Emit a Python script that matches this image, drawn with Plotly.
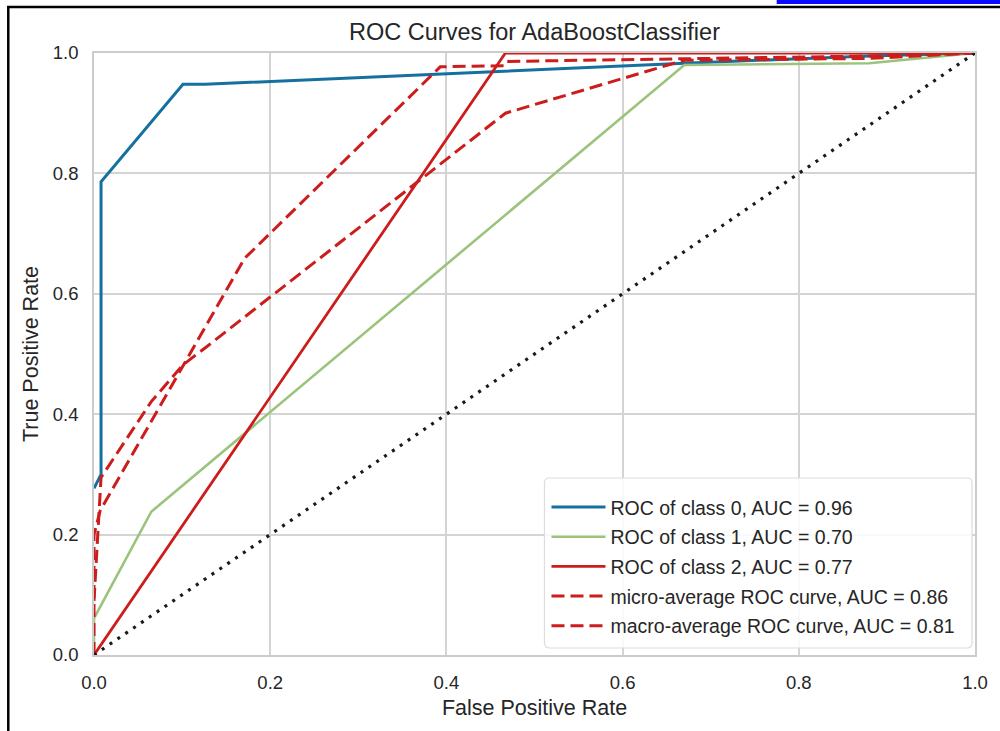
import plotly.graph_objects as go

# ROC curve coordinates (false positive rate, true positive rate)
class0_fpr = [0.0, 0.008, 0.008, 0.101, 0.126, 0.67, 0.88, 1.0]
class0_tpr = [0.277, 0.30, 0.786, 0.948, 0.948, 0.983, 0.995, 1.0]

class1_fpr = [0.0, 0.0, 0.065, 0.67, 0.88, 1.0]
class1_tpr = [0.0, 0.061, 0.238, 0.98, 0.983, 1.0]

class2_fpr = [0.0, 0.467, 1.0]
class2_tpr = [0.0, 1.0, 1.0]

micro_fpr = [0.0, 0.0, 0.007, 0.171, 0.393, 0.465, 0.468, 0.67, 0.88, 1.0]
micro_tpr = [0.0, 0.20, 0.24, 0.659, 0.977, 0.979, 0.986, 0.99, 0.995, 1.0]

macro_fpr = [0.0, 0.008, 0.065, 0.101, 0.126, 0.467, 0.67, 0.88, 1.0]
macro_tpr = [0.09, 0.295, 0.421, 0.482, 0.51, 0.90, 0.988, 0.991, 1.0]

diag = [0.0, 1.0]

labels = [
    "ROC of class 0, AUC = 0.96",
    "ROC of class 1, AUC = 0.70",
    "ROC of class 2, AUC = 0.77",
    "micro-average ROC curve, AUC = 0.86",
    "macro-average ROC curve, AUC = 0.81",
]

tick_vals = [0.0, 0.2, 0.4, 0.6, 0.8, 1.0]
tick_text = ["0.0", "0.2", "0.4", "0.6", "0.8", "1.0"]

BLUE = "#14719f"
GREEN = "#9ac47c"
RED = "#cc1c1c"
TEXT = "#262626"
GRID = "#d4d4d4"
FONT = "Liberation Sans, Arial, sans-serif"
DASH = "13px,6px"

# plot area size in pixels (used to keep rounded corners circular)
PLOT_W = 1000 - 94 - 22
PLOT_H = 731 - 53 - 76

curves = [
    (class0_fpr, class0_tpr, dict(color=BLUE, width=3)),
    (class1_fpr, class1_tpr, dict(color=GREEN, width=2.6)),
    (class2_fpr, class2_tpr, dict(color=RED, width=2.8)),
    (micro_fpr, micro_tpr, dict(color=RED, width=3, dash=DASH)),
    (macro_fpr, macro_tpr, dict(color=RED, width=3, dash=DASH)),
]

fig = go.Figure()
for i, (fx, fy, style) in enumerate(curves):
    fig.add_trace(go.Scatter(x=fx, y=fy, mode="lines", name=labels[i],
                             legendgroup=f"g{i}", line=style))
fig.add_trace(go.Scatter(x=diag, y=diag, mode="lines", showlegend=False,
                         line=dict(color="#1a1a1a", width=3.2, dash="3px,6.5px")))

axis_common = dict(
    range=[0, 1],
    tickvals=tick_vals,
    ticktext=tick_text,
    showgrid=True,
    gridcolor=GRID,
    gridwidth=1.5,
    zeroline=False,
    showline=True,
    linecolor="#cccccc",
    linewidth=1.5,
    mirror=True,
    ticks="outside",
    ticklen=10,
    tickcolor="rgba(0,0,0,0)",
    tickfont=dict(family=FONT, size=18.5, color=TEXT),
)

fig.update_layout(
    width=1000,
    height=731,
    margin=dict(l=94, r=22, t=53, b=76),
    paper_bgcolor="white",
    plot_bgcolor="white",
    font=dict(family=FONT, color=TEXT),
    title=dict(text="ROC Curves for AdaBoostClassifier", x=0.5, xref="paper",
               xanchor="center", y=0.956, yanchor="middle",
               font=dict(family=FONT, size=23.5, color=TEXT)),
    xaxis=dict(axis_common, title=dict(text="False Positive Rate", standoff=8,
                                       font=dict(family=FONT, size=21.5, color=TEXT))),
    yaxis=dict(axis_common, title=dict(text="True Positive Rate", standoff=8,
                                       font=dict(family=FONT, size=21.5, color=TEXT))),
    legend=dict(
        x=0.5136, y=0.0168, xanchor="left", yanchor="bottom",
        bgcolor="rgba(0,0,0,0)",
        borderwidth=0,
        itemwidth=54,
        tracegroupgap=1.3,
        font=dict(family=FONT, size=19.5, color=TEXT),
    ),
    showlegend=True,
)


def rounded_box(x0, y0, x1, y1, r):
    """SVG path for a rectangle with rounded corners, in paper units."""
    rx = r / PLOT_W
    ry = r / PLOT_H
    return (
        f"M {x0 + rx},{y0} L {x1 - rx},{y0} Q {x1},{y0} {x1},{y0 + ry} "
        f"L {x1},{y1 - ry} Q {x1},{y1} {x1 - rx},{y1} "
        f"L {x0 + rx},{y1} Q {x0},{y1} {x0},{y1 - ry} "
        f"L {x0},{y0 + ry} Q {x0},{y0} {x0 + rx},{y0} Z"
    )


# legend frame
fig.add_shape(type="path", xref="paper", yref="paper", layer="above",
              path=rounded_box(0.5113, 0.0116, 0.9966, 0.294, 5),
              fillcolor="rgba(255,255,255,0.85)",
              line=dict(color="#dddddd", width=1.2))

# page frame (left and top rules) and the link bar at the top right
fig.add_shape(type="line", xref="paper", yref="paper",
              x0=-0.0973, x1=-0.0973, y0=1.0775, y1=-0.13,
              line=dict(color="black", width=2.5))
fig.add_shape(type="line", xref="paper", yref="paper",
              x0=-0.0987, x1=1.03, y0=1.0764, y1=1.0764,
              line=dict(color="black", width=2.5))
fig.add_shape(type="rect", xref="paper", yref="paper",
              x0=0.7749, x1=1.03, y0=1.0814, y1=1.09,
              line=dict(width=0), fillcolor="#0a0aff")

fig.write_html("out.html")
